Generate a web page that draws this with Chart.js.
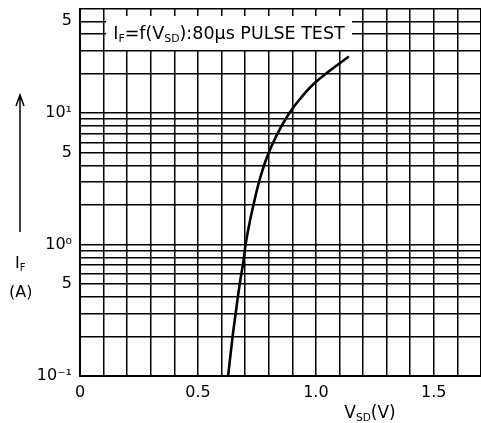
<!DOCTYPE html>
<html>
<head>
<meta charset="utf-8">
<script src="https://cdn.jsdelivr.net/npm/chart.js@4"></script>
<style>
	html, body { margin: 0; padding: 0; background: #fff; overflow: hidden; }
	#wrap { width: 481px; height: 423px; }
</style>
</head>
<body>
<div id="wrap"><canvas id="chart" width="481" height="423"></canvas></div>
<script>
(function () {
	'use strict';

	// Forward characteristic.
	var VSD = [0.628, 0.647, 0.660, 0.677, 0.693, 0.702, 0.720, 0.739, 0.759, 0.792, 0.834, 0.884, 0.937, 0.989, 1.058, 1.140];
	var IF  = [0.10,  0.20,  0.30,  0.50,  0.75,  1.0,   1.5,   2.14,  3.0,   4.6,   6.8,   9.8,   13.1,  16.6,  21.0,  27.0];

	var X_MIN = 0, X_MAX = 1.7, X_STEP = 0.1;
	var X_LABELS = { '0': '0', '0.5': '0.5', '1': '1.0', '1.5': '1.5' };

	var Y_MIN = 0.1, Y_MAX = 62;
	var Y_GRID = [0.1, 0.2, 0.3, 0.4, 0.5, 0.6, 0.7, 0.8, 0.9,
		1, 2, 3, 4, 5, 6, 7, 8, 9,
		10, 20, 30, 40, 50, 62];
	var Y_LABELS = { '0.1': '10\u207B\u00B9', '0.5': '5', '1': '10\u2070', '5': '5', '10': '10\u00B9', '50': '5' };

	var FONT = '"DejaVu Sans", sans-serif';
	var INK = '#000';

	function key(v) {
		return String(Math.round(v * 100) / 100);
	}

	// draw text pieces, some as subscripts; returns end x
	function drawRich(ctx, parts, x, y, size) {
		parts.forEach(function (p) {
			var s = p.sub ? size * 0.62 : size;
			ctx.font = s + 'px ' + FONT;
			ctx.fillText(p.t, x, y + (p.sub ? size * 0.18 : 0));
			x += ctx.measureText(p.t).width;
		});
		return x;
	}

	function richWidth(ctx, parts, size) {
		var w = 0;
		parts.forEach(function (p) {
			ctx.font = (p.sub ? size * 0.62 : size) + 'px ' + FONT;
			w += ctx.measureText(p.t).width;
		});
		return w;
	}

	var decor = {
		id: 'decor',
		beforeDatasetsDraw: function (chart) {
			var ctx = chart.ctx;
			ctx.save();
			// title box over the grid
			ctx.fillStyle = '#fff';
			ctx.fillRect(106, 16, 246, 34);
			ctx.fillStyle = INK;
			ctx.textBaseline = 'alphabetic';
			var title = [
				{ t: 'I' }, { t: 'F', sub: true }, { t: '=f(V' }, { t: 'SD', sub: true },
				{ t: '):80\u03BCs PULSE TEST' }
			];
			var w = richWidth(ctx, title, 17.5);
			drawRich(ctx, title, 229 - w / 2, 39, 17.5);
			ctx.restore();
		},
		afterDraw: function (chart) {
			var ctx = chart.ctx;
			ctx.save();
			ctx.fillStyle = INK;
			ctx.strokeStyle = INK;
			ctx.textBaseline = 'alphabetic';

			// x axis title
			var xt = [{ t: 'V' }, { t: 'SD', sub: true }, { t: '(V)' }];
			var w = richWidth(ctx, xt, 17);
			drawRich(ctx, xt, 370 - w / 2, 418, 17);

			// y axis title with arrow
			ctx.lineWidth = 1.5;
			ctx.beginPath();
			ctx.moveTo(20, 232);
			ctx.lineTo(20, 96);
			ctx.moveTo(16, 106);
			ctx.lineTo(20, 95);
			ctx.lineTo(24, 106);
			ctx.stroke();
			drawRich(ctx, [{ t: 'I' }, { t: 'F', sub: true }], 15, 268, 16);
			ctx.font = '16px ' + FONT;
			ctx.fillText('(A)', 9, 297);
			ctx.restore();
		}
	};

	function init() {
		var ctx = document.getElementById('chart');
		new Chart(ctx, {
			type: 'line',
			data: {
				datasets: [{
					data: VSD.map(function (v, i) { return { x: v, y: IF[i] }; }),
					borderColor: INK,
					borderWidth: 2.6,
					pointRadius: 0,
					fill: false,
					tension: 0.4
				}]
			},
			options: {
				responsive: false,
				animation: false,
				devicePixelRatio: 1,
				layout: { padding: { top: 9, left: 0, right: 0, bottom: 0 } },
				plugins: { legend: { display: false }, tooltip: { enabled: false } },
				scales: {
					x: {
						type: 'linear',
						min: X_MIN,
						max: X_MAX,
						afterFit: function (s) {
							s.height = 47;
							s.paddingLeft = 0;
							s.paddingRight = 0;
						},
						grid: { color: INK, lineWidth: 1.5, drawTicks: false },
						border: { color: INK, width: 2 },
						ticks: {
							stepSize: X_STEP,
							autoSkip: false,
							maxRotation: 0,
							padding: 7,
							color: INK,
							font: { family: FONT, size: 16 },
							callback: function (v) { return X_LABELS[key(v)] || ''; }
						}
					},
					y: {
						type: 'logarithmic',
						min: Y_MIN,
						max: Y_MAX,
						afterFit: function (s) {
							s.width = 80;
							s.paddingTop = 0;
							s.paddingBottom = 0;
						},
						afterBuildTicks: function (s) {
							s.ticks = Y_GRID.map(function (v) { return { value: v }; });
						},
						grid: { color: INK, lineWidth: 1.5, drawTicks: false },
						border: { color: INK, width: 2 },
						ticks: {
							autoSkip: false,
							padding: 8,
							color: INK,
							font: { family: FONT, size: 16 },
							callback: function (v) { return Y_LABELS[key(v)] || ''; }
						}
					}
				}
			},
			plugins: [decor]
		});
	}

	init();
})();
</script>
</body>
</html>
